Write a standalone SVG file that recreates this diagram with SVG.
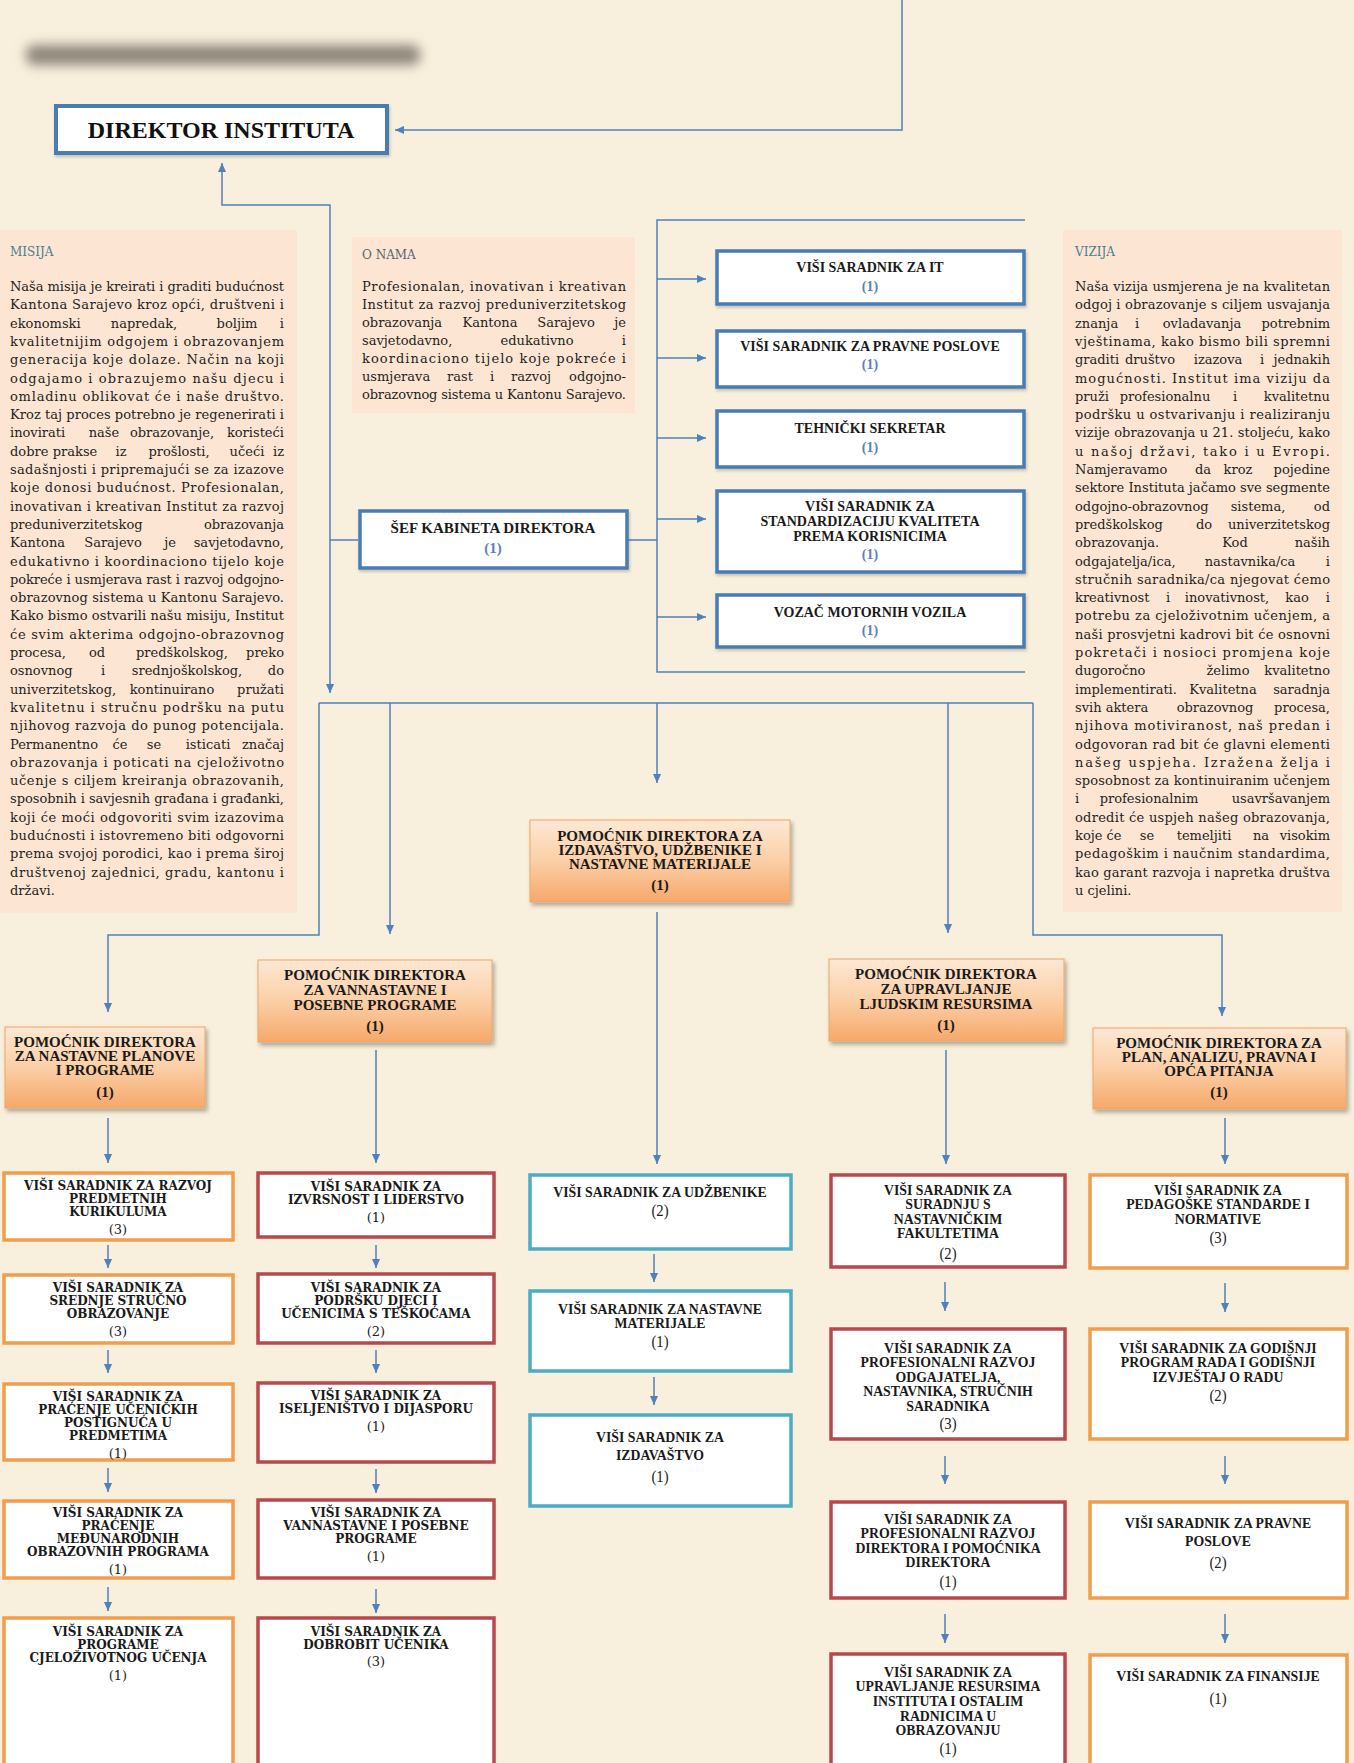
<svg xmlns="http://www.w3.org/2000/svg" width="1354" height="1763" viewBox="0 0 1354 1763">
<defs>
<style>
.bg{fill:#f8efdc}
.pan{fill:#fce6d3}
.hd{font-family:"DejaVu Serif",serif;font-size:12px;fill:#4b7b8f}
.t{font-family:"DejaVu Serif",serif;font-size:13px;fill:#1e1e1e}
.m{text-anchor:middle}
.e{text-anchor:end}
.ln{fill:none;stroke:#4f81bd;stroke-width:1.5}
.ar{marker-end:url(#ah)}
.bb{fill:#fff;stroke:#4a7cb5;stroke-width:3.5}
.bt{font-family:"Liberation Serif",serif;font-weight:bold;font-size:14px;fill:#1a1a1a;text-anchor:middle}
.bn{font-family:"Liberation Serif",serif;font-weight:bold;font-size:14px;fill:#5f82b0;text-anchor:middle}
.pb{fill:url(#og);stroke:#eda56a;stroke-width:1}
.pt{font-family:"Liberation Serif",serif;font-weight:bold;font-size:15px;fill:#1a1a1a;text-anchor:middle}
.wo{fill:#fff;stroke:#f29d4c;stroke-width:3.5}
.wr{fill:#fff;stroke:#b9484d;stroke-width:3.5}
.wt{fill:#fff;stroke:#4bacc6;stroke-width:3.5}
.kt{font-family:"DejaVu Serif",serif;font-weight:bold;font-size:12px;fill:#1a1a1a;text-anchor:middle}
.kn{font-family:"DejaVu Serif",serif;font-size:13px;fill:#222;text-anchor:middle}
.ct{font-family:"Liberation Serif",serif;font-weight:bold;font-size:15px;fill:#1a1a1a;text-anchor:middle}
.cn{font-family:"Liberation Serif",serif;font-size:16px;fill:#222;text-anchor:middle}
</style>
<marker id="ah" viewBox="0 0 10 10" refX="10" refY="5" markerWidth="9" markerHeight="9" markerUnits="userSpaceOnUse" orient="auto-start-reverse">
<path d="M0,0.5 L10,5 L0,9.5 z" fill="#4f81bd"/>
</marker>
<linearGradient id="og" x1="0" y1="0" x2="0" y2="1">
<stop offset="0" stop-color="#fde8d4"/>
<stop offset="0.5" stop-color="#fbcfa6"/>
<stop offset="1" stop-color="#f6a86a"/>
</linearGradient>
<filter id="sh" x="-10%" y="-10%" width="130%" height="140%">
<feDropShadow dx="2" dy="3" stdDeviation="2" flood-color="#000" flood-opacity="0.3"/>
</filter>
<filter id="sh2" x="-10%" y="-10%" width="130%" height="140%">
<feDropShadow dx="1" dy="2" stdDeviation="1.5" flood-color="#000" flood-opacity="0.2"/>
</filter>
<filter id="bl" x="-20%" y="-300%" width="140%" height="700%">
<feGaussianBlur stdDeviation="6"/>
</filter>
</defs>

<rect class="bg" x="0" y="0" width="1354" height="1763"/>
<rect x="26" y="45" width="394" height="20" rx="8" fill="#8e877c" filter="url(#bl)"/>

<g id="connectors">
<path class="ln ar" d="M902,0 V130 H395"/>
<path class="ln" d="M222,163 V205 H330 V693" marker-start="url(#ah)" marker-end="url(#ah)"/>
<path class="ln" d="M330,540 H358"/>
<path class="ln" d="M627,540 H657"/>
<path class="ln" d="M1025,220 H657 V672 H1025"/>
<path class="ln ar" d="M657,279 H706"/>
<path class="ln ar" d="M657,358 H706"/>
<path class="ln ar" d="M657,438 H706"/>
<path class="ln ar" d="M657,519 H706"/>
<path class="ln ar" d="M657,617 H706"/>
<path class="ln" d="M319,703 H1033"/>
<path class="ln ar" d="M319,703 V935 H108 V1012"/>
<path class="ln ar" d="M390,703 V934"/>
<path class="ln ar" d="M657,703 V783"/>
<path class="ln ar" d="M948,703 V933"/>
<path class="ln ar" d="M1033,703 V935 H1222 V1016"/>
<path class="ln ar" d="M108,1118 V1163"/>
<path class="ln ar" d="M376,1050 V1163"/>
<path class="ln ar" d="M657,912 V1164"/>
<path class="ln ar" d="M946,1050 V1164"/>
<path class="ln ar" d="M1225,1118 V1164"/>
<path class="ln ar" d="M108,1245 V1268"/>
<path class="ln ar" d="M108,1350 V1373"/>
<path class="ln ar" d="M108,1468 V1492"/>
<path class="ln ar" d="M108,1587 V1611"/>
<path class="ln ar" d="M376,1245 V1268"/>
<path class="ln ar" d="M376,1350 V1373"/>
<path class="ln ar" d="M376,1469 V1493"/>
<path class="ln ar" d="M376,1589 V1613"/>
<path class="ln ar" d="M654,1254 V1282"/>
<path class="ln ar" d="M654,1377 V1405"/>
<path class="ln ar" d="M945,1282 V1311"/>
<path class="ln ar" d="M945,1456 V1484"/>
<path class="ln ar" d="M945,1614 V1643"/>
<path class="ln ar" d="M1225,1283 V1312"/>
<path class="ln ar" d="M1225,1456 V1484"/>
<path class="ln ar" d="M1225,1614 V1643"/>
</g>

<g id="misija">
<rect class="pan" x="0" y="230" width="297" height="683"/>
<text class="hd" x="10" y="256">MISIJA</text>
<text class="t" x="10" y="291" textLength="274" lengthAdjust="spacing">Naša misija je kreirati i graditi budućnost</text>
<text class="t" x="10" y="309.3" textLength="274" lengthAdjust="spacing">Kantona Sarajevo kroz opći, društveni i</text>
<text class="t" x="10" y="327.6">ekonomski</text><text class="t m" x="144" y="327.6">napredak,</text><text class="t m" x="237" y="327.6">boljim</text><text class="t e" x="284" y="327.6">i</text>
<text class="t" x="10" y="345.9" textLength="274" lengthAdjust="spacing">kvalitetnijim odgojem i obrazovanjem</text>
<text class="t" x="10" y="364.2" textLength="274" lengthAdjust="spacing">generacija koje dolaze. Način na koji</text>
<text class="t" x="10" y="382.5" textLength="274" lengthAdjust="spacing">odgajamo i obrazujemo našu djecu i</text>
<text class="t" x="10" y="400.8" textLength="274" lengthAdjust="spacing">omladinu oblikovat će i naše društvo.</text>
<text class="t" x="10" y="419.1" textLength="274" lengthAdjust="spacing">Kroz taj proces potrebno je regenerirati i</text>
<text class="t" x="10" y="437.4">inovirati</text><text class="t m" x="104" y="437.4">naše</text><text class="t m" x="172" y="437.4">obrazovanje,</text><text class="t e" x="284" y="437.4">koristeći</text>
<text class="t" x="10" y="455.7">dobre</text><text class="t m" x="75" y="455.7">prakse</text><text class="t m" x="121" y="455.7">iz</text><text class="t m" x="179" y="455.7">prošlosti,</text><text class="t m" x="247" y="455.7">učeći</text><text class="t e" x="284" y="455.7">iz</text>
<text class="t" x="10" y="474" textLength="274" lengthAdjust="spacing">sadašnjosti i pripremajući se za izazove</text>
<text class="t" x="10" y="492.3" textLength="274" lengthAdjust="spacing">koje donosi budućnost. Profesionalan,</text>
<text class="t" x="10" y="510.6" textLength="274" lengthAdjust="spacing">inovativan i kreativan Institut za razvoj</text>
<text class="t" x="10" y="528.9">preduniverzitetskog</text><text class="t e" x="284" y="528.9">obrazovanja</text>
<text class="t" x="10" y="547.2">Kantona</text><text class="t m" x="113" y="547.2">Sarajevo</text><text class="t m" x="170" y="547.2">je</text><text class="t e" x="284" y="547.2">savjetodavno,</text>
<text class="t" x="10" y="565.5" textLength="274" lengthAdjust="spacing">edukativno i koordinaciono tijelo koje</text>
<text class="t" x="10" y="583.8" textLength="274" lengthAdjust="spacing">pokreće i usmjerava rast i razvoj odgojno-</text>
<text class="t" x="10" y="602.1" textLength="274" lengthAdjust="spacing">obrazovnog sistema u Kantonu Sarajevo.</text>
<text class="t" x="10" y="620.4" textLength="274" lengthAdjust="spacing">Kako bismo ostvarili našu misiju, Institut</text>
<text class="t" x="10" y="638.7" textLength="274" lengthAdjust="spacing">će svim akterima odgojno-obrazovnog</text>
<text class="t" x="10" y="657">procesa,</text><text class="t m" x="97" y="657">od</text><text class="t m" x="182" y="657">predškolskog,</text><text class="t e" x="284" y="657">preko</text>
<text class="t" x="10" y="675.3">osnovnog</text><text class="t m" x="103" y="675.3">i</text><text class="t m" x="187" y="675.3">srednjoškolskog,</text><text class="t e" x="284" y="675.3">do</text>
<text class="t" x="10" y="693.6">univerzitetskog,</text><text class="t m" x="172" y="693.6">kontinuirano</text><text class="t e" x="284" y="693.6">pružati</text>
<text class="t" x="10" y="711.9" textLength="274" lengthAdjust="spacing">kvalitetnu i stručnu podršku na putu</text>
<text class="t" x="10" y="730.2" textLength="274" lengthAdjust="spacing">njihovog razvoja do punog potencijala.</text>
<text class="t" x="10" y="748.5">Permanentno</text><text class="t m" x="120" y="748.5">će</text><text class="t m" x="154" y="748.5">se</text><text class="t m" x="208" y="748.5">isticati</text><text class="t e" x="284" y="748.5">značaj</text>
<text class="t" x="10" y="766.8" textLength="274" lengthAdjust="spacing">obrazovanja i poticati na cjeloživotno</text>
<text class="t" x="10" y="785.1" textLength="274" lengthAdjust="spacing">učenje s ciljem kreiranja obrazovanih,</text>
<text class="t" x="10" y="803.4" textLength="274" lengthAdjust="spacing">sposobnih i savjesnih građana i građanki,</text>
<text class="t" x="10" y="821.7" textLength="274" lengthAdjust="spacing">koji će moći odgovoriti svim izazovima</text>
<text class="t" x="10" y="840" textLength="274" lengthAdjust="spacing">budućnosti i istovremeno biti odgovorni</text>
<text class="t" x="10" y="858.3" textLength="274" lengthAdjust="spacing">prema svojoj porodici, kao i prema široj</text>
<text class="t" x="10" y="876.6" textLength="274" lengthAdjust="spacing">društvenoj zajednici, gradu, kantonu i</text>
<text class="t" x="10" y="894.9">državi.</text>
</g>

<g id="onama">
<rect class="pan" x="352" y="237" width="283" height="176"/>
<text class="hd" x="362" y="259" style="fill:#56656e">O NAMA</text>
<text class="t" x="362" y="291" textLength="264" lengthAdjust="spacing">Profesionalan, inovativan i kreativan</text>
<text class="t" x="362" y="309" textLength="264" lengthAdjust="spacing">Institut za razvoj preduniverzitetskog</text>
<text class="t" x="362" y="327">obrazovanja</text><text class="t m" x="490" y="327">Kantona</text><text class="t m" x="566" y="327">Sarajevo</text><text class="t e" x="626" y="327">je</text>
<text class="t" x="362" y="345">savjetodavno,</text><text class="t m" x="537" y="345">edukativno</text><text class="t e" x="626" y="345">i</text>
<text class="t" x="362" y="363" textLength="264" lengthAdjust="spacing">koordinaciono tijelo koje pokreće i</text>
<text class="t" x="362" y="381">usmjerava</text><text class="t m" x="460" y="381">rast</text><text class="t m" x="492" y="381">i</text><text class="t m" x="531" y="381">razvoj</text><text class="t e" x="626" y="381">odgojno-</text>
<text class="t" x="362" y="399" textLength="264" lengthAdjust="spacing">obrazovnog sistema u Kantonu Sarajevo.</text>
</g>

<g id="vizija">
<rect class="pan" x="1063" y="230" width="279" height="682"/>
<text class="hd" x="1075" y="256">VIZIJA</text>
<text class="t" x="1075" y="291" textLength="255" lengthAdjust="spacing">Naša vizija usmjerena je na kvalitetan</text>
<text class="t" x="1075" y="309.3" textLength="255" lengthAdjust="spacing">odgoj i obrazovanje s ciljem usvajanja</text>
<text class="t" x="1075" y="327.6">znanja</text><text class="t m" x="1137" y="327.6">i</text><text class="t m" x="1202" y="327.6">ovladavanja</text><text class="t e" x="1330" y="327.6">potrebnim</text>
<text class="t" x="1075" y="345.9" textLength="255" lengthAdjust="spacing">vještinama, kako bismo bili spremni</text>
<text class="t" x="1075" y="364.2">graditi</text><text class="t m" x="1150" y="364.2">društvo</text><text class="t m" x="1218" y="364.2">izazova</text><text class="t m" x="1262" y="364.2">i</text><text class="t e" x="1330" y="364.2">jednakih</text>
<text class="t" x="1075" y="382.5" textLength="255" lengthAdjust="spacing">mogućnosti. Institut ima viziju da</text>
<text class="t" x="1075" y="400.8">pruži</text><text class="t m" x="1165" y="400.8">profesionalnu</text><text class="t m" x="1235" y="400.8">i</text><text class="t e" x="1330" y="400.8">kvalitetnu</text>
<text class="t" x="1075" y="419.1" textLength="255" lengthAdjust="spacing">podršku u ostvarivanju i realiziranju</text>
<text class="t" x="1075" y="437.4" textLength="255" lengthAdjust="spacing">vizije obrazovanja u 21. stoljeću, kako</text>
<text class="t" x="1075" y="455.7" textLength="255" lengthAdjust="spacing">u našoj državi, tako i u Evropi.</text>
<text class="t" x="1075" y="474">Namjeravamo</text><text class="t m" x="1203" y="474">da</text><text class="t m" x="1238" y="474">kroz</text><text class="t e" x="1330" y="474">pojedine</text>
<text class="t" x="1075" y="492.3" textLength="255" lengthAdjust="spacing">sektore Instituta jačamo sve segmente</text>
<text class="t" x="1075" y="510.6">odgojno-obrazovnog</text><text class="t m" x="1258" y="510.6">sistema,</text><text class="t e" x="1330" y="510.6">od</text>
<text class="t" x="1075" y="528.9">predškolskog</text><text class="t m" x="1204" y="528.9">do</text><text class="t e" x="1330" y="528.9">univerzitetskog</text>
<text class="t" x="1075" y="547.2">obrazovanja.</text><text class="t m" x="1235" y="547.2">Kod</text><text class="t e" x="1330" y="547.2">naših</text>
<text class="t" x="1075" y="565.5">odgajatelja/ica,</text><text class="t m" x="1250" y="565.5">nastavnika/ca</text><text class="t e" x="1330" y="565.5">i</text>
<text class="t" x="1075" y="583.8" textLength="255" lengthAdjust="spacing">stručnih saradnika/ca njegovat ćemo</text>
<text class="t" x="1075" y="602.1">kreativnost</text><text class="t m" x="1168" y="602.1">i</text><text class="t m" x="1227" y="602.1">inovativnost,</text><text class="t m" x="1297" y="602.1">kao</text><text class="t e" x="1330" y="602.1">i</text>
<text class="t" x="1075" y="620.4" textLength="255" lengthAdjust="spacing">potrebu za cjeloživotnim učenjem, a</text>
<text class="t" x="1075" y="638.7" textLength="255" lengthAdjust="spacing">naši prosvjetni kadrovi bit će osnovni</text>
<text class="t" x="1075" y="657" textLength="255" lengthAdjust="spacing">pokretači i nosioci promjena koje</text>
<text class="t" x="1075" y="675.3">dugoročno</text><text class="t m" x="1228" y="675.3">želimo</text><text class="t e" x="1330" y="675.3">kvalitetno</text>
<text class="t" x="1075" y="693.6">implementirati.</text><text class="t m" x="1223" y="693.6">Kvalitetna</text><text class="t e" x="1330" y="693.6">saradnja</text>
<text class="t" x="1075" y="711.9">svih</text><text class="t m" x="1127" y="711.9">aktera</text><text class="t m" x="1215" y="711.9">obrazovnog</text><text class="t e" x="1330" y="711.9">procesa,</text>
<text class="t" x="1075" y="730.2" textLength="255" lengthAdjust="spacing">njihova motiviranost, naš predan i</text>
<text class="t" x="1075" y="748.5" textLength="255" lengthAdjust="spacing">odgovoran rad bit će glavni elementi</text>
<text class="t" x="1075" y="766.8" textLength="255" lengthAdjust="spacing">našeg uspjeha. Izražena želja i</text>
<text class="t" x="1075" y="785.1" textLength="255" lengthAdjust="spacing">sposobnost za kontinuiranim učenjem</text>
<text class="t" x="1075" y="803.4">i</text><text class="t m" x="1149" y="803.4">profesionalnim</text><text class="t e" x="1330" y="803.4">usavršavanjem</text>
<text class="t" x="1075" y="821.7" textLength="255" lengthAdjust="spacing">odredit će uspjeh našeg obrazovanja,</text>
<text class="t" x="1075" y="840">koje</text><text class="t m" x="1114" y="840">će</text><text class="t m" x="1147" y="840">se</text><text class="t m" x="1204" y="840">temeljiti</text><text class="t m" x="1261" y="840">na</text><text class="t e" x="1330" y="840">visokim</text>
<text class="t" x="1075" y="858.3" textLength="255" lengthAdjust="spacing">pedagoškim i naučnim standardima,</text>
<text class="t" x="1075" y="876.6" textLength="255" lengthAdjust="spacing">kao garant razvoja i napretka društva</text>
<text class="t" x="1075" y="894.9">u cjelini.</text>
</g>

<g id="direktor">
<rect class="bb" x="56" y="106" width="331" height="47" filter="url(#sh2)" style="stroke-width:4"/>
<text x="221" y="138" style="font-family:'Liberation Serif',serif;font-weight:bold;font-size:24px;fill:#111;text-anchor:middle">DIREKTOR INSTITUTA</text>
</g>

<g id="sef-kabineta">
<rect class="bb" x="360" y="511" width="267" height="57" filter="url(#sh2)"/>
<text class="bt" x="493" y="533" style="font-size:15px">ŠEF KABINETA DIREKTORA</text>
<text class="bn" x="493" y="553" style="font-size:15px">(1)</text>
</g>

<g id="visi-it">
<rect class="bb" x="717" y="251" width="307" height="53" filter="url(#sh2)"/>
<text class="bt" x="870" y="272">VIŠI SARADNIK ZA IT</text>
<text class="bn" x="870" y="291">(1)</text>
</g>
<g id="visi-pravne">
<rect class="bb" x="717" y="331" width="307" height="56" filter="url(#sh2)"/>
<text class="bt" x="870" y="351">VIŠI SARADNIK ZA PRAVNE POSLOVE</text>
<text class="bn" x="870" y="369">(1)</text>
</g>
<g id="tehnicki">
<rect class="bb" x="717" y="411" width="307" height="56" filter="url(#sh2)"/>
<text class="bt" x="870" y="433">TEHNIČKI SEKRETAR</text>
<text class="bn" x="870" y="452">(1)</text>
</g>
<g id="standardizacija">
<rect class="bb" x="717" y="491" width="307" height="81" filter="url(#sh2)"/>
<text class="bt" x="870" y="511">VIŠI SARADNIK ZA</text>
<text class="bt" x="870" y="526">STANDARDIZACIJU KVALITETA</text>
<text class="bt" x="870" y="541">PREMA KORISNICIMA</text>
<text class="bn" x="870" y="559">(1)</text>
</g>
<g id="vozac">
<rect class="bb" x="717" y="595" width="307" height="52" filter="url(#sh2)"/>
<text class="bt" x="870" y="617">VOZAČ MOTORNIH VOZILA</text>
<text class="bn" x="870" y="635">(1)</text>
</g>

<g id="pom-planove">
<rect class="pb" x="5" y="1027" width="200" height="81" filter="url(#sh)"/>
<text class="pt" x="105" y="1047">POMOĆNIK DIREKTORA</text>
<text class="pt" x="105" y="1061">ZA NASTAVNE PLANOVE</text>
<text class="pt" x="105" y="1075">I PROGRAME</text>
<text class="pt" x="105" y="1097">(1)</text>
</g>
<g id="pom-vannastavne">
<rect class="pb" x="258" y="960" width="234" height="82" filter="url(#sh)"/>
<text class="pt" x="375" y="980">POMOĆNIK DIREKTORA</text>
<text class="pt" x="375" y="995">ZA VANNASTAVNE I</text>
<text class="pt" x="375" y="1010">POSEBNE PROGRAME</text>
<text class="pt" x="375" y="1031">(1)</text>
</g>
<g id="pom-izdavastvo">
<rect class="pb" x="530" y="820" width="260" height="82" filter="url(#sh)"/>
<text class="pt" x="660" y="841">POMOĆNIK DIREKTORA ZA</text>
<text class="pt" x="660" y="855">IZDAVAŠTVO, UDŽBENIKE I</text>
<text class="pt" x="660" y="869">NASTAVNE MATERIJALE</text>
<text class="pt" x="660" y="890">(1)</text>
</g>
<g id="pom-ljudski">
<rect class="pb" x="829" y="959" width="235" height="82" filter="url(#sh)"/>
<text class="pt" x="946" y="979">POMOĆNIK DIREKTORA</text>
<text class="pt" x="946" y="994">ZA UPRAVLJANJE</text>
<text class="pt" x="946" y="1009">LJUDSKIM RESURSIMA</text>
<text class="pt" x="946" y="1030">(1)</text>
</g>
<g id="pom-plan">
<rect class="pb" x="1093" y="1028" width="253" height="81" filter="url(#sh)"/>
<text class="pt" x="1219" y="1048">POMOĆNIK DIREKTORA ZA</text>
<text class="pt" x="1219" y="1062">PLAN, ANALIZU, PRAVNA I</text>
<text class="pt" x="1219" y="1076">OPĆA PITANJA</text>
<text class="pt" x="1219" y="1097">(1)</text>
</g>

<g id="a1">
<rect class="wo" x="4" y="1173" width="229" height="67"/>
<text class="kt" x="118" y="1190">VIŠI SARADNIK ZA RAZVOJ</text>
<text class="kt" x="118" y="1203">PREDMETNIH</text>
<text class="kt" x="118" y="1216">KURIKULUMA</text>
<text class="kn" x="118" y="1234">(3)</text>
</g>
<g id="a2">
<rect class="wo" x="4" y="1275" width="229" height="68"/>
<text class="kt" x="118" y="1292">VIŠI SARADNIK ZA</text>
<text class="kt" x="118" y="1305">SREDNJE STRUČNO</text>
<text class="kt" x="118" y="1318">OBRAZOVANJE</text>
<text class="kn" x="118" y="1336">(3)</text>
</g>
<g id="a3">
<rect class="wo" x="4" y="1384" width="229" height="76"/>
<text class="kt" x="118" y="1401">VIŠI SARADNIK ZA</text>
<text class="kt" x="118" y="1414">PRAĆENJE UČENIČKIH</text>
<text class="kt" x="118" y="1427">POSTIGNUĆA U</text>
<text class="kt" x="118" y="1440">PREDMETIMA</text>
<text class="kn" x="118" y="1458">(1)</text>
</g>
<g id="a4">
<rect class="wo" x="4" y="1501" width="229" height="77"/>
<text class="kt" x="118" y="1517">VIŠI SARADNIK ZA</text>
<text class="kt" x="118" y="1530">PRAĆENJE</text>
<text class="kt" x="118" y="1543">MEĐUNARODNIH</text>
<text class="kt" x="118" y="1556">OBRAZOVNIH PROGRAMA</text>
<text class="kn" x="118" y="1574">(1)</text>
</g>
<g id="a5">
<rect class="wo" x="4" y="1618" width="229" height="160"/>
<text class="kt" x="118" y="1636">VIŠI SARADNIK ZA</text>
<text class="kt" x="118" y="1649">PROGRAME</text>
<text class="kt" x="118" y="1662">CJELOŽIVOTNOG UČENJA</text>
<text class="kn" x="118" y="1680">(1)</text>
</g>

<g id="b1">
<rect class="wr" x="258" y="1173" width="236" height="64"/>
<text class="kt" x="376" y="1191">VIŠI SARADNIK ZA</text>
<text class="kt" x="376" y="1204">IZVRSNOST I LIDERSTVO</text>
<text class="kn" x="376" y="1222">(1)</text>
</g>
<g id="b2">
<rect class="wr" x="258" y="1274" width="236" height="69"/>
<text class="kt" x="376" y="1292">VIŠI SARADNIK ZA</text>
<text class="kt" x="376" y="1305">PODRŠKU DJECI I</text>
<text class="kt" x="376" y="1318">UČENICIMA S TEŠKOĆAMA</text>
<text class="kn" x="376" y="1336">(2)</text>
</g>
<g id="b3">
<rect class="wr" x="258" y="1383" width="236" height="79"/>
<text class="kt" x="376" y="1400">VIŠI SARADNIK ZA</text>
<text class="kt" x="376" y="1413">ISELJENIŠTVO I DIJASPORU</text>
<text class="kn" x="376" y="1431">(1)</text>
</g>
<g id="b4">
<rect class="wr" x="258" y="1500" width="236" height="78"/>
<text class="kt" x="376" y="1517">VIŠI SARADNIK ZA</text>
<text class="kt" x="376" y="1530">VANNASTAVNE I POSEBNE</text>
<text class="kt" x="376" y="1543">PROGRAME</text>
<text class="kn" x="376" y="1561">(1)</text>
</g>
<g id="b5">
<rect class="wr" x="258" y="1618" width="236" height="160"/>
<text class="kt" x="376" y="1636">VIŠI SARADNIK ZA</text>
<text class="kt" x="376" y="1649">DOBROBIT UČENIKA</text>
<text class="kn" x="376" y="1666">(3)</text>
</g>

<g id="c1">
<rect class="wt" x="530" y="1175" width="261" height="74"/>
<g transform="translate(660,0) scale(0.92,1)">
<text class="ct" x="0" y="1197">VIŠI SARADNIK ZA UDŽBENIKE</text>
<text class="cn" x="0" y="1216">(2)</text>
</g>
</g>
<g id="c2">
<rect class="wt" x="530" y="1291" width="261" height="80"/>
<g transform="translate(660,0) scale(0.92,1)">
<text class="ct" x="0" y="1314">VIŠI SARADNIK ZA NASTAVNE</text>
<text class="ct" x="0" y="1328">MATERIJALE</text>
<text class="cn" x="0" y="1347">(1)</text>
</g>
</g>
<g id="c3">
<rect class="wt" x="530" y="1415" width="261" height="91"/>
<g transform="translate(660,0) scale(0.92,1)">
<text class="ct" x="0" y="1442">VIŠI SARADNIK ZA</text>
<text class="ct" x="0" y="1460">IZDAVAŠTVO</text>
<text class="cn" x="0" y="1482">(1)</text>
</g>
</g>

<g id="d1">
<rect class="wr" x="831" y="1175" width="234" height="92"/>
<g transform="translate(948,0) scale(0.92,1)">
<text class="ct" x="0" y="1195">VIŠI SARADNIK ZA</text>
<text class="ct" x="0" y="1209">SURADNJU S</text>
<text class="ct" x="0" y="1224">NASTAVNIČKIM</text>
<text class="ct" x="0" y="1238">FAKULTETIMA</text>
<text class="cn" x="0" y="1259">(2)</text>
</g>
</g>
<g id="d2">
<rect class="wr" x="831" y="1329" width="234" height="110"/>
<g transform="translate(948,0) scale(0.92,1)">
<text class="ct" x="0" y="1353">VIŠI SARADNIK ZA</text>
<text class="ct" x="0" y="1367">PROFESIONALNI RAZVOJ</text>
<text class="ct" x="0" y="1382">ODGAJATELJA,</text>
<text class="ct" x="0" y="1396">NASTAVNIKA, STRUČNIH</text>
<text class="ct" x="0" y="1411">SARADNIKA</text>
<text class="cn" x="0" y="1429">(3)</text>
</g>
</g>
<g id="d3">
<rect class="wr" x="831" y="1502" width="234" height="96"/>
<g transform="translate(948,0) scale(0.92,1)">
<text class="ct" x="0" y="1524">VIŠI SARADNIK ZA</text>
<text class="ct" x="0" y="1538">PROFESIONALNI RAZVOJ</text>
<text class="ct" x="0" y="1553">DIREKTORA I POMOĆNIKA</text>
<text class="ct" x="0" y="1567">DIREKTORA</text>
<text class="cn" x="0" y="1587">(1)</text>
</g>
</g>
<g id="d4">
<rect class="wr" x="831" y="1654" width="234" height="124"/>
<g transform="translate(948,0) scale(0.92,1)">
<text class="ct" x="0" y="1677">VIŠI SARADNIK ZA</text>
<text class="ct" x="0" y="1691">UPRAVLJANJE RESURSIMA</text>
<text class="ct" x="0" y="1706">INSTITUTA I OSTALIM</text>
<text class="ct" x="0" y="1721">RADNICIMA U</text>
<text class="ct" x="0" y="1735">OBRAZOVANJU</text>
<text class="cn" x="0" y="1754">(1)</text>
</g>
</g>

<g id="e1">
<rect class="wo" x="1090" y="1175" width="257" height="93"/>
<g transform="translate(1218,0) scale(0.92,1)">
<text class="ct" x="0" y="1195">VIŠI SARADNIK ZA</text>
<text class="ct" x="0" y="1209">PEDAGOŠKE STANDARDE I</text>
<text class="ct" x="0" y="1224">NORMATIVE</text>
<text class="cn" x="0" y="1243">(3)</text>
</g>
</g>
<g id="e2">
<rect class="wo" x="1090" y="1329" width="257" height="110"/>
<g transform="translate(1218,0) scale(0.92,1)">
<text class="ct" x="0" y="1353">VIŠI SARADNIK ZA GODIŠNJI</text>
<text class="ct" x="0" y="1367">PROGRAM RADA I GODIŠNJI</text>
<text class="ct" x="0" y="1382">IZVJEŠTAJ O RADU</text>
<text class="cn" x="0" y="1401">(2)</text>
</g>
</g>
<g id="e3">
<rect class="wo" x="1090" y="1502" width="257" height="96"/>
<g transform="translate(1218,0) scale(0.92,1)">
<text class="ct" x="0" y="1528">VIŠI SARADNIK ZA PRAVNE</text>
<text class="ct" x="0" y="1546">POSLOVE</text>
<text class="cn" x="0" y="1568">(2)</text>
</g>
</g>
<g id="e4">
<rect class="wo" x="1090" y="1655" width="257" height="123"/>
<g transform="translate(1218,0) scale(0.92,1)">
<text class="ct" x="0" y="1681">VIŠI SARADNIK ZA FINANSIJE</text>
<text class="cn" x="0" y="1704">(1)</text>
</g>
</g>
</svg>
